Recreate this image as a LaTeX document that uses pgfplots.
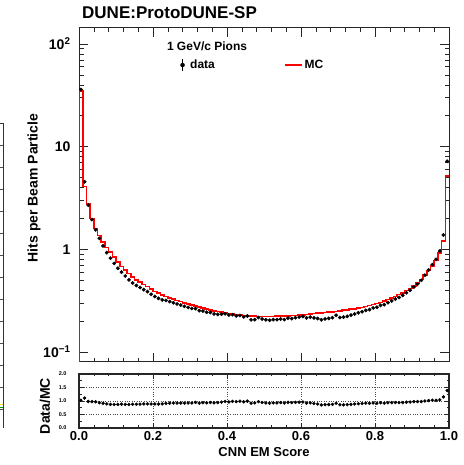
\documentclass[border=0pt]{standalone}
\usepackage{fontspec}
\setmainfont{Liberation Sans}
\usepackage{pgfplots}
\pgfplotsset{compat=1.18}
\usepackage{pgfplotstable}

\pgfplotstableread{
x mc data
0.005 35 36
0.015 4.1 4.55
0.025 2.75 2.7
0.035 2.0 1.95
0.045 1.6 1.55
0.055 1.37 1.28
0.065 1.18 1.08
0.075 1.04 0.93
0.085 0.94 0.82
0.095 0.84 0.73
0.105 0.75 0.655
0.115 0.68 0.60
0.125 0.63 0.55
0.135 0.58 0.505
0.145 0.535 0.47
0.155 0.505 0.445
0.165 0.48 0.425
0.175 0.455 0.405
0.185 0.435 0.388
0.195 0.41 0.365
0.205 0.39 0.348
0.215 0.375 0.333
0.225 0.36 0.322
0.235 0.348 0.318
0.245 0.337 0.31
0.255 0.327 0.302
0.265 0.318 0.294
0.275 0.31 0.287
0.285 0.302 0.279
0.295 0.294 0.272
0.305 0.287 0.266
0.315 0.28 0.265
0.325 0.274 0.253
0.335 0.268 0.251
0.345 0.262 0.244
0.355 0.257 0.243
0.365 0.252 0.235
0.375 0.248 0.233
0.385 0.244 0.234
0.395 0.24 0.236
0.405 0.237 0.229
0.415 0.234 0.231
0.425 0.231 0.225
0.435 0.229 0.227
0.445 0.227 0.22
0.455 0.225 0.224
0.465 0.224 0.206
0.475 0.223 0.207
0.485 0.222 0.217
0.495 0.222 0.21
0.505 0.222 0.206
0.515 0.222 0.204
0.525 0.222 0.207
0.535 0.223 0.207
0.545 0.223 0.21
0.555 0.224 0.207
0.565 0.225 0.214
0.575 0.226 0.212
0.585 0.227 0.216
0.595 0.229 0.219
0.605 0.231 0.222
0.615 0.233 0.215
0.625 0.235 0.219
0.635 0.237 0.215
0.645 0.239 0.212
0.655 0.241 0.206
0.665 0.243 0.21
0.675 0.245 0.213
0.685 0.247 0.216
0.695 0.249 0.228
0.705 0.252 0.217
0.715 0.255 0.219
0.725 0.258 0.223
0.735 0.261 0.229
0.745 0.264 0.235
0.755 0.268 0.241
0.765 0.272 0.247
0.775 0.277 0.255
0.785 0.283 0.259
0.795 0.29 0.269
0.805 0.297 0.273
0.815 0.305 0.285
0.825 0.314 0.29
0.835 0.324 0.303
0.845 0.335 0.315
0.855 0.348 0.328
0.865 0.362 0.34
0.875 0.378 0.356
0.885 0.396 0.378
0.895 0.416 0.4
0.905 0.44 0.43
0.915 0.47 0.46
0.925 0.51 0.5
0.935 0.56 0.56
0.945 0.62 0.63
0.955 0.69 0.71
0.965 0.78 0.8
0.975 0.92 0.96
0.985 1.2 1.38
0.995 5.2 7.2
}\hist

\pgfplotstableread{
x mc
0.0 0.05
0.0 35
0.01 4.1
0.02 2.75
0.03 2.0
0.04 1.6
0.05 1.37
0.06 1.18
0.07 1.04
0.08 0.94
0.09 0.84
0.10 0.75
0.11 0.68
0.12 0.63
0.13 0.58
0.14 0.535
0.15 0.505
0.16 0.48
0.17 0.455
0.18 0.435
0.19 0.41
0.20 0.39
0.21 0.375
0.22 0.36
0.23 0.348
0.24 0.337
0.25 0.327
0.26 0.318
0.27 0.31
0.28 0.302
0.29 0.294
0.30 0.287
0.31 0.28
0.32 0.274
0.33 0.268
0.34 0.262
0.35 0.257
0.36 0.252
0.37 0.248
0.38 0.244
0.39 0.24
0.40 0.237
0.41 0.234
0.42 0.231
0.43 0.229
0.44 0.227
0.45 0.225
0.46 0.224
0.47 0.223
0.48 0.222
0.49 0.222
0.50 0.222
0.51 0.222
0.52 0.222
0.53 0.223
0.54 0.223
0.55 0.224
0.56 0.225
0.57 0.226
0.58 0.227
0.59 0.229
0.60 0.231
0.61 0.233
0.62 0.235
0.63 0.237
0.64 0.239
0.65 0.241
0.66 0.243
0.67 0.245
0.68 0.247
0.69 0.249
0.70 0.252
0.71 0.255
0.72 0.258
0.73 0.261
0.74 0.264
0.75 0.268
0.76 0.272
0.77 0.277
0.78 0.283
0.79 0.29
0.80 0.297
0.81 0.305
0.82 0.314
0.83 0.324
0.84 0.335
0.85 0.348
0.86 0.362
0.87 0.378
0.88 0.396
0.89 0.416
0.90 0.44
0.91 0.47
0.92 0.51
0.93 0.56
0.94 0.62
0.95 0.69
0.96 0.78
0.97 0.92
0.98 1.2
0.99 5.2
1.00 5.2
}\mcedges

\begin{document}
\begin{tikzpicture}
\path[use as bounding box] (0pt,0pt) rectangle (463pt,465pt);
% fragment of neighbouring panel at the left edge
\draw[black!80,line width=0.8pt] (0pt,342pt) -- (3pt,342pt) -- (3pt,37pt);
\foreach \yy in {320,298,276,254,232,210,188,166,144,122,100,78,56} {\draw[black!70,line width=0.5pt] (0pt,\yy pt) -- (3pt,\yy pt);}
\draw[green!60!black,line width=1pt] (0pt,57pt) -- (3pt,57pt);
\draw[yellow!80!orange,line width=1pt] (0pt,60pt) -- (3pt,60pt);

\node[anchor=base west,font=\bfseries\fontsize{17}{17}\selectfont,inner sep=0pt] at (82pt,446pt) {DUNE:ProtoDUNE-SP};

\begin{axis}[
  at={(79pt,103pt)}, anchor=south west,
  width=370pt, height=334pt, scale only axis,
  xmin=0, xmax=1, ymode=log, ymin=0.08, ymax=143,
  axis line style={line width=1pt, black!85},
  xtick={0,0.2,0.4,0.6,0.8,1.0}, xticklabels={}, minor x tick num=4,
  ytick={0.1,1,10,100},
  yticklabels={10\textsuperscript{−1},1,10,10\textsuperscript{2}},
  yticklabel style={font=\bfseries\fontsize{14}{14}\selectfont, xshift=-5pt},
  major tick length=9pt, minor tick length=4.5pt,
  tick style={black!85, line width=0.6pt},
  ylabel={Hits per Beam Particle},
  ylabel style={at={(axis description cs:-0.1216,0.521)}, anchor=center, font=\bfseries\fontsize{14}{14}\selectfont},
  legend columns=2,
  legend style={at={(0.262,0.889)}, anchor=west, draw=none, fill=none,
    font=\bfseries\fontsize{12}{12}\selectfont,
    /tikz/every even column/.append style={column sep=67pt}},
]
\addplot[only marks, mark=*, mark size=1.7pt, black,
  legend image code/.code={\path[draw=none,fill=none] (-0.02cm,-0.01cm) rectangle (0.3cm,0.01cm); \draw[black,line width=0.9pt] (0.1cm,-0.2cm) -- (0.1cm,0.2cm); \fill[black] (0.1cm,0cm) circle (2pt);}]
  table[x=x, y=data] {\hist};
\addlegendentry{data}
\addplot[const plot mark left, red, line width=1.6pt, mark=none] table[x=x, y=mc] {\mcedges};
\addlegendentry{MC}
\node[font=\bfseries\fontsize{12}{12}\selectfont, anchor=base] at (axis description cs:0.346,0.9317) {1 GeV/c Pions};
\end{axis}

\begin{axis}[
  at={(79pt,37pt)}, anchor=south west,
  width=370pt, height=54pt, scale only axis,
  xmin=0, xmax=1, ymin=0, ymax=2,
  axis line style={line width=1.3pt, black!85},
  xtick={0,0.2,0.4,0.6,0.8,1.0},
  xticklabels={0.0,0.2,0.4,0.6,0.8,1.0},
  minor x tick num=4,
  ytick={0,0.5,1.0,1.5,2.0},
  yticklabels={0.0,0.5,1.0,1.5,2.0},
  minor y tick num=1,
  xticklabel style={font=\bfseries\fontsize{13}{13}\selectfont},
  yticklabel style={font=\bfseries\fontsize{5.5}{5.5}\selectfont, xshift=-9pt},
  major tick length=5pt, minor tick length=2.5pt,
  tick style={black!85, line width=0.6pt},
  grid=major, major grid style={dotted, black!70, line width=0.6pt},
  xlabel={CNN EM Score},
  xlabel style={at={(axis description cs:0.5,-0.531)}, anchor=base, font=\bfseries\fontsize{13}{13}\selectfont},
  ylabel={Data/MC},
  ylabel style={at={(axis description cs:-0.0919,0.407)}, anchor=center, font=\bfseries\fontsize{14}{14}\selectfont},
]
\addplot[only marks, mark=*, mark size=1.5pt, black] table[x=x, y expr=\thisrow{data}/\thisrow{mc}] {\hist};
\end{axis}
\end{tikzpicture}
\end{document}
